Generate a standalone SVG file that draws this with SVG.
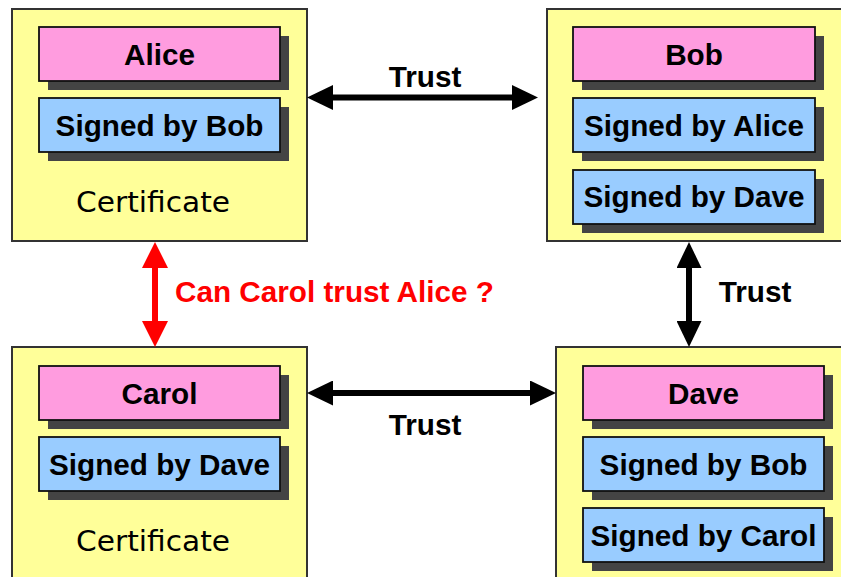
<svg xmlns="http://www.w3.org/2000/svg" width="841" height="577" viewBox="0 0 841 577">
  <style>
    .cert { fill: #FFFF99; stroke: #333333; stroke-width: 2; }
    .shadow { fill: #444444; }
    .name { fill: #FF9CDF; stroke: #111111; stroke-width: 1.8; }
    .sig { fill: #99CCFF; stroke: #111111; stroke-width: 1.8; }
    .lbl { font-family: "Liberation Sans", Arial, sans-serif; font-weight: bold; font-size: 29.7px; fill: #000000; text-anchor: middle; }
    .cap { font-family: "Comic Sans MS", "DejaVu Sans", sans-serif; font-size: 28px; fill: #000000; text-anchor: middle; }
    .conn { stroke: #000000; stroke-width: 6; fill: none; }
    .conn.red { stroke: #FF0000; }
    .note { font-family: "Liberation Sans", Arial, sans-serif; font-weight: bold; font-size: 29.7px; }
  </style>
  <defs>
    <marker id="head" markerUnits="userSpaceOnUse" markerWidth="26" markerHeight="25" refX="6" refY="12.5" orient="auto-start-reverse">
      <path d="M0,0 L26,12.5 L0,25 z" fill="#000000"/>
    </marker>
    <marker id="headRed" markerUnits="userSpaceOnUse" markerWidth="26" markerHeight="26" refX="6" refY="13" orient="auto-start-reverse">
      <path d="M0,0 L26,13 L0,26 z" fill="#FF0000"/>
    </marker>
  </defs>
  <rect x="0" y="0" width="841" height="577" fill="#FFFFFF"/>

  <!-- Alice's certificate -->
  <g id="alice">
    <rect class="cert" x="12" y="9" width="295" height="232"/>
    <rect class="shadow" x="48" y="36" width="241" height="54"/>
    <rect class="name" x="39" y="27" width="241" height="54"/>
    <text class="lbl" x="159.5" y="64.5">Alice</text>
    <rect class="shadow" x="48" y="107" width="241" height="54"/>
    <rect class="sig" x="39" y="98" width="241" height="54"/>
    <text class="lbl" x="159.5" y="135.5">Signed by Bob</text>
    <text class="cap" x="153" y="212" textLength="154" lengthAdjust="spacingAndGlyphs">Certificate</text>
  </g>

  <!-- Bob's certificate -->
  <g id="bob">
    <rect class="cert" x="547" y="9" width="300" height="232"/>
    <rect class="shadow" x="582" y="36" width="242" height="54"/>
    <rect class="name" x="573" y="27" width="242" height="54"/>
    <text class="lbl" x="694" y="64.5">Bob</text>
    <rect class="shadow" x="582" y="107" width="242" height="54"/>
    <rect class="sig" x="573" y="98" width="242" height="54"/>
    <text class="lbl" x="694" y="135.5">Signed by Alice</text>
    <rect class="shadow" x="582" y="179" width="242" height="54"/>
    <rect class="sig" x="573" y="170" width="242" height="54"/>
    <text class="lbl" x="694" y="206.5">Signed by Dave</text>
  </g>

  <!-- Carol's certificate -->
  <g id="carol">
    <rect class="cert" x="12" y="347" width="295" height="240"/>
    <rect class="shadow" x="48" y="375" width="241" height="54"/>
    <rect class="name" x="39" y="366" width="241" height="54"/>
    <text class="lbl" x="159.5" y="403.5">Carol</text>
    <rect class="shadow" x="48" y="446" width="241" height="54"/>
    <rect class="sig" x="39" y="437" width="241" height="54"/>
    <text class="lbl" x="159.5" y="474.5">Signed by Dave</text>
    <text class="cap" x="153" y="551" textLength="154" lengthAdjust="spacingAndGlyphs">Certificate</text>
  </g>

  <!-- Dave's certificate -->
  <g id="dave">
    <rect class="cert" x="556" y="347" width="300" height="240"/>
    <rect class="shadow" x="592" y="375" width="241" height="54"/>
    <rect class="name" x="583" y="366" width="241" height="54"/>
    <text class="lbl" x="703.5" y="403.5">Dave</text>
    <rect class="shadow" x="592" y="446" width="241" height="54"/>
    <rect class="sig" x="583" y="437" width="241" height="54"/>
    <text class="lbl" x="703.5" y="474.5">Signed by Bob</text>
    <rect class="shadow" x="592" y="517" width="241" height="54"/>
    <rect class="sig" x="583" y="508" width="241" height="54"/>
    <text class="lbl" x="703.5" y="545.5">Signed by Carol</text>
  </g>

  <!-- trust relations -->
  <g id="connectors">
    <line class="conn" x1="327" y1="97.5" x2="518" y2="97.5" marker-start="url(#head)" marker-end="url(#head)"/>
    <text class="note" x="425" y="87" text-anchor="middle">Trust</text>

    <line class="conn" x1="327" y1="393" x2="536" y2="393" marker-start="url(#head)" marker-end="url(#head)"/>
    <text class="note" x="425" y="435" text-anchor="middle">Trust</text>

    <line class="conn" x1="689" y1="262" x2="689" y2="327" marker-start="url(#head)" marker-end="url(#head)"/>
    <text class="note" x="755" y="302" text-anchor="middle">Trust</text>

    <line class="conn red" x1="155" y1="262" x2="155" y2="327" marker-start="url(#headRed)" marker-end="url(#headRed)"/>
    <text class="note" x="175" y="302" fill="#FF0000">Can Carol trust Alice ?</text>
  </g>
</svg>
